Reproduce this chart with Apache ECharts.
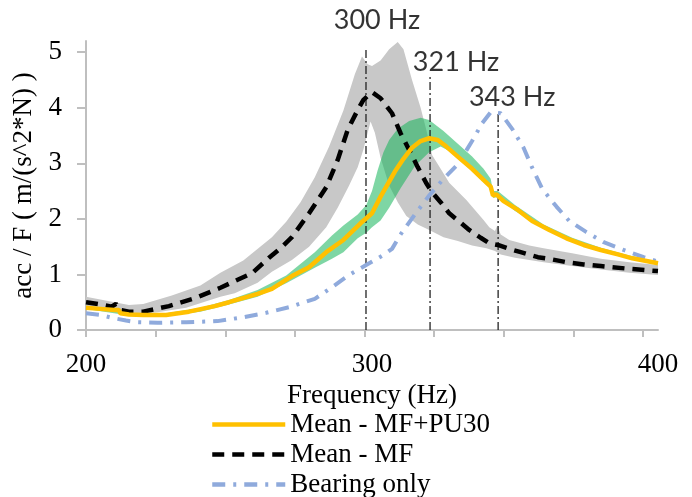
<!DOCTYPE html>
<html>
<head>
<meta charset="utf-8">
<script src="https://cdn.jsdelivr.net/npm/echarts@6/dist/echarts.min.js"></script>
<style>html,body{margin:0;padding:0;background:#fff}#c{width:692px;height:497px}</style>
</head>
<body>
<div id="c"></div>
<script>
// ---- data (frequency Hz, acc/F) ----
const xLabelValues = [200, 300, 400];
const xTickValues = [200, 224.3, 248.7, 273.0, 297.4, 321.7, 346.0, 370.4, 394.7];
const yLabelValues = [0, 1, 2, 3, 4, 5];

const meanMFPU30 = [[200,0.40],[205,0.38],[210,0.36],[211.5,0.36],[212,0.30],[215,0.28],[220,0.27],[228,0.27],[236,0.33],[245,0.43],[250,0.50],[260,0.65],[265,0.74],[272,0.97],[278,1.13],[284,1.40],[290,1.62],[296,1.92],[300,2.10],[303,2.40],[308,2.85],[311,3.08],[314,3.28],[317,3.40],[320,3.45],[323,3.42],[326,3.30],[330,3.12],[335,2.90],[339,2.70],[341.5,2.58],[342.3,2.42],[343.5,2.44],[346,2.32],[351,2.16],[356,1.96],[362,1.80],[368,1.65],[374,1.53],[380,1.44],[386,1.36],[391,1.29],[400,1.20]];

const meanMF = [[200,0.50],[205,0.46],[209,0.42],[210.5,0.47],[212,0.36],[215,0.33],[220,0.33],[229,0.43],[238,0.57],[247,0.76],[252,0.88],[258,1.02],[264,1.30],[268,1.47],[272,1.67],[278,2.10],[284,2.57],[288,3.06],[291.5,3.60],[295,3.96],[297,4.14],[300,4.28],[303,4.17],[307,3.90],[310,3.54],[313,3.24],[316,2.93],[319,2.64],[321,2.48],[324,2.30],[327,2.10],[331,1.93],[334,1.80],[338,1.66],[341,1.56],[344,1.53],[348,1.46],[352,1.40],[358,1.31],[362,1.28],[368,1.22],[374,1.18],[380,1.15],[390,1.10],[400,1.06]];

const bearingOnly = [[200,0.30],[205,0.27],[209,0.22],[214,0.17],[218,0.14],[225,0.13],[235,0.14],[246,0.16],[255,0.23],[263,0.31],[271,0.41],[280,0.56],[286,0.77],[292,0.99],[299,1.20],[304,1.35],[307,1.46],[310,1.72],[315,2.08],[320,2.42],[325,2.72],[330,2.98],[335,3.40],[338.5,3.72],[341.5,3.92],[345,3.90],[349,3.62],[353,3.28],[356,2.92],[359.5,2.54],[364.5,2.22],[369,1.96],[375,1.76],[381,1.58],[388,1.44],[395,1.31],[400,1.23]];

const mfUpper = [[200,0.60],[205,0.55],[210,0.50],[215,0.45],[220,0.47],[230,0.62],[240,0.80],[247,1.03],[255,1.25],[265,1.67],[270,1.95],[275,2.30],[280,2.75],[285,3.30],[290,3.95],[294,4.60],[296.5,4.92],[298.5,4.78],[300,4.75],[303,4.85],[306,5.05],[309,5.18],[311,5.05],[314,4.50],[317,4.00],[319,3.60],[321,3.15],[324,2.90],[327,2.65],[333,2.34],[339,1.98],[341,1.85],[343,1.78],[343.8,1.88],[345,1.72],[348,1.62],[355,1.52],[360,1.47],[370,1.38],[380,1.28],[390,1.22],[400,1.17]];
const mfLower = [[200,0.42],[210,0.36],[217,0.27],[225,0.32],[235,0.40],[247,0.60],[252,0.66],[260,0.85],[265,1.05],[272,1.26],[278,1.50],[284,1.85],[288,2.20],[292,2.60],[295,2.93],[297,3.25],[299.5,3.75],[301,3.55],[303,3.10],[306,2.60],[309,2.30],[312,2.05],[316,1.90],[320,1.80],[325,1.67],[330,1.60],[335,1.52],[340,1.47],[343,1.42],[345,1.36],[350,1.30],[360,1.22],[370,1.15],[380,1.09],[390,1.03],[400,0.99]];

const pu30Upper = [[200,0.42],[215,0.30],[228,0.30],[240,0.40],[250,0.54],[260,0.72],[270,0.98],[280,1.40],[286,1.70],[290,1.88],[295,2.08],[298,2.25],[300,2.50],[302,2.88],[304,3.20],[306,3.42],[309,3.62],[313,3.76],[317,3.82],[320,3.78],[325,3.58],[330,3.35],[335,3.12],[339,2.90],[341.5,2.72],[342.3,2.50],[344,2.50],[350,2.25],[360,1.90],[370,1.66],[380,1.48],[390,1.34],[400,1.23]];
const pu30Lower = [[200,0.38],[215,0.26],[228,0.25],[240,0.33],[250,0.46],[260,0.60],[270,0.84],[280,1.12],[286,1.28],[290,1.40],[295,1.65],[298,1.75],[300,1.85],[303,1.97],[306,2.20],[310,2.55],[315,2.95],[320,3.20],[324,3.30],[327,3.22],[330,3.08],[335,2.86],[339,2.66],[341.5,2.54],[342.3,2.38],[344,2.39],[350,2.14],[360,1.83],[370,1.60],[380,1.42],[390,1.29],[400,1.18]];

const refFreqs = [297.9, 320.3, 344.1];
const refTops = [5.04, 4.59, 3.92];
const refLabels = ['300 Hz', '321 Hz', '343 Hz'];
const seriesNames = ['Mean - MF+PU30', 'Mean - MF', 'Bearing only'];

// ---- chart ----
const chart = echarts.init(document.getElementById('c'), null, {renderer: 'canvas'});
const serif = 'Liberation Serif';

function band(upper, lower, color, z) {
  return {
    type: 'custom', silent: true, z: z, clip: true,
    data: [[upper[0][0], upper[0][1]]],
    renderItem: function (params, api) {
      const pts = [];
      upper.forEach(p => pts.push(api.coord(p)));
      for (let i = lower.length - 1; i >= 0; i--) pts.push(api.coord(lower[i]));
      return {type: 'polygon', shape: {points: pts}, style: {fill: color}};
    }
  };
}

const refSeries = refFreqs.map((f, i) => ({
  type: 'line', silent: true, z: 3, symbol: 'none',
  data: [[f, 0], [f, refTops[i]]],
  lineStyle: {color: '#222', width: 1.3, type: [8, 3, 2, 3]}
}));
const labelOffsets = [[11, -30], [26, -13], [14, -15]];
const refLabelSeries = {
  type: 'scatter', silent: true, z: 6, symbolSize: 1,
  itemStyle: {color: 'rgba(0,0,0,0)'},
  data: refFreqs.map((f, i) => ({
    value: [f, refTops[i]],
    label: {show: true, position: 'inside', offset: labelOffsets[i], formatter: refLabels[i],
      fontFamily: 'Lato', fontSize: 27, color: '#000'}
  }))
};

chart.setOption({
  animation: false,
  grid: {left: 86, right: 34, top: 41, bottom: 167},
  legend: {
    orient: 'vertical', left: 210, top: 411, height: 100, padding: 0,
    itemWidth: 73, itemHeight: 14, itemGap: 3,
    data: seriesNames,
    itemStyle: {opacity: 0},
    lineStyle: {width: 4.5},
    textStyle: {fontFamily: serif, fontSize: 27, color: '#000'}
  },
  xAxis: {
    type: 'value', min: 200, max: 400,
    name: 'Frequency (Hz)', nameLocation: 'middle', nameGap: 46,
    nameTextStyle: {fontFamily: serif, fontSize: 27, color: '#000'},
    axisLine: {show: true, onZero: false, lineStyle: {color: '#bfbfbf', width: 2}},
    axisTick: {show: true, inside: false, length: 7, customValues: xTickValues, lineStyle: {color: '#bfbfbf', width: 2}},
    axisLabel: {customValues: xLabelValues, margin: 21, fontFamily: serif, fontSize: 27, color: '#000'},
    splitLine: {show: false}
  },
  yAxis: {
    type: 'value', min: 0, max: 5.2,
    name: 'acc / F ( m/(s^2*N) )', nameLocation: 'middle', nameGap: 45,
    nameTextStyle: {fontFamily: serif, fontSize: 27, color: '#000'},
    axisLine: {show: true, lineStyle: {color: '#bfbfbf', width: 2}},
    axisTick: {show: true, length: 9, customValues: yLabelValues, lineStyle: {color: '#bfbfbf', width: 2}},
    axisLabel: {customValues: yLabelValues, margin: 24, fontFamily: serif, fontSize: 27, color: '#000'},
    splitLine: {show: false}
  },
  series: [
    band(mfUpper, mfLower, '#c8c8c8', 1),
    band(pu30Upper, pu30Lower, 'rgba(20,180,90,0.55)', 2),
    ...refSeries,
    {name: seriesNames[2], type: 'line', z: 4, symbol: 'none', data: bearingOnly,
      lineStyle: {color: '#8faadc', width: 4, type: [13, 8, 3, 8]}, itemStyle: {color: '#8faadc'}},
    {name: seriesNames[1], type: 'line', z: 5, symbol: 'none', data: meanMF,
      lineStyle: {color: '#000', width: 4.5, type: [12, 8]}, itemStyle: {color: '#000'}},
    {name: seriesNames[0], type: 'line', z: 5, symbol: 'none', data: meanMFPU30,
      lineStyle: {color: '#ffc000', width: 4.5}, itemStyle: {color: '#ffc000'}},
    refLabelSeries
  ]
});
</script>
</body>
</html>
